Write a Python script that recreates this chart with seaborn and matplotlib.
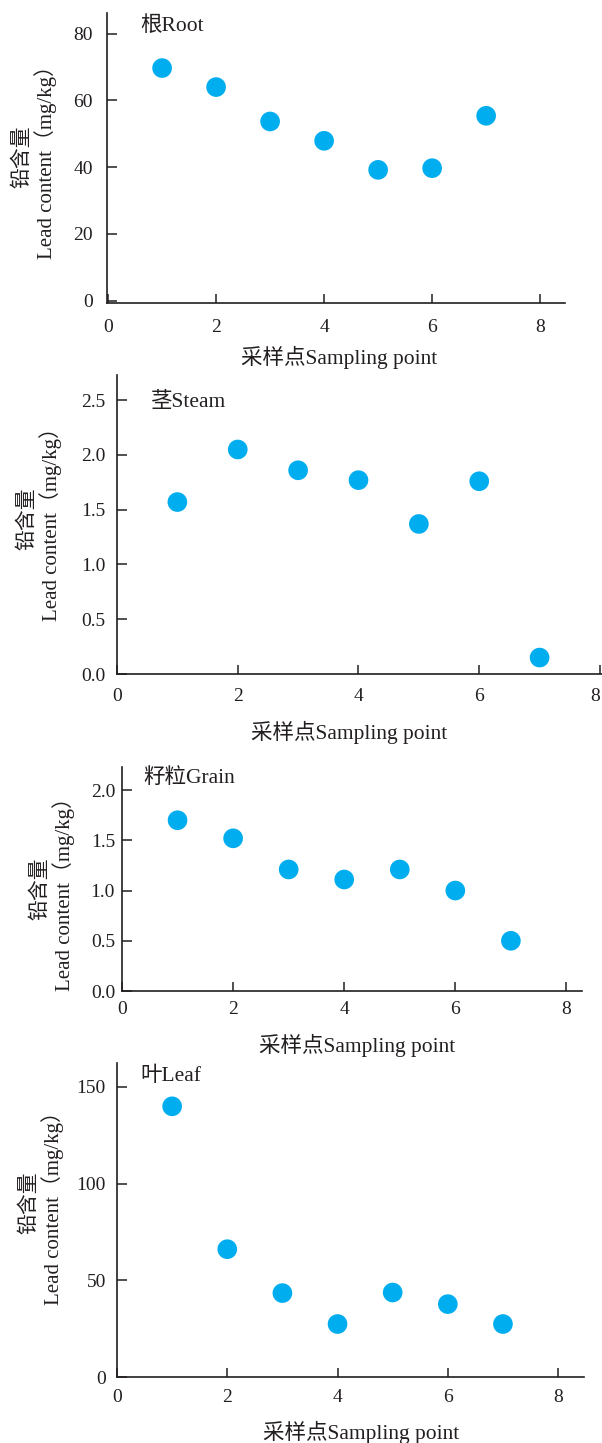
import numpy as np
import pandas as pd

import matplotlib
matplotlib.use("Agg")
import matplotlib.pyplot as plt
import seaborn as sns


# data
sampling_points = [1, 2, 3, 4, 5, 6, 7]

root_lead = [69.7, 64.0, 53.7, 47.9, 39.2, 39.7, 55.4]
steam_lead = [1.57, 2.05, 1.86, 1.77, 1.37, 1.76, 0.15]
grain_lead = [1.70, 1.52, 1.21, 1.11, 1.21, 1.00, 0.50]
leaf_lead = [140.0, 66.1, 43.4, 27.4, 43.7, 37.7, 27.4]

panel_names = ["根Root", "茎Steam", "籽粒Grain", "叶Leaf"]

x_ticks = [0, 2, 4, 6, 8]
root_ticks = [0, 20, 40, 60, 80]
steam_ticks = [0.0, 0.5, 1.0, 1.5, 2.0, 2.5]
grain_ticks = [0.0, 0.5, 1.0, 1.5, 2.0]
leaf_ticks = [0, 50, 100, 150]

root_labels = ["0", "20", "40", "60", "80"]
steam_labels = ["0.0", "0.5", "1.0", "1.5", "2.0", "2.5"]
grain_labels = ["0.0", "0.5", "1.0", "1.5", "2.0"]
leaf_labels = ["0", "50", "100", "150"]

x_label = "采样点Sampling point"
y_label = "铅含量\nLead content（mg/kg）"


sns.set_style("ticks")
plt.rcParams["font.family"] = ["Liberation Serif", "Noto Sans CJK SC"]

W, H = 602, 1443
ink = "#231F20"
dot = "#00AEEF"

fig = plt.figure(figsize=(W / 100, H / 100), dpi=100)


# layout in pixels: spine box, limits, pads, text spots
panels = [
    dict(values=root_lead, ticks=root_ticks, labels=root_labels, name=panel_names[0],
         box=(107, 565, 13, 303), xlim=(-0.02, 8.46), ylim=(-0.7, 86.2),
         ypad=10, xpad=11.5, ylab=(35, 157), xlab=(339, 357), title=(140, 26)),
    dict(values=steam_lead, ticks=steam_ticks, labels=steam_labels, name=panel_names[1],
         box=(117, 603, 375, 674), xlim=(0, 8.05), ylim=(0.048, 2.73),
         ypad=8.4, xpad=10, ylab=(40, 519), xlab=(349, 732), title=(151, 402)),
    dict(values=grain_lead, ticks=grain_ticks, labels=grain_labels, name=panel_names[2],
         box=(122, 582, 767, 991), xlim=(0, 8.28), ylim=(0, 2.23),
         ypad=5, xpad=7, ylab=(53, 889), xlab=(357, 1045), title=(143, 778)),
    dict(values=leaf_lead, ticks=leaf_ticks, labels=leaf_labels, name=panel_names[3],
         box=(117, 584, 1063, 1377), xlim=(0, 8.47), ylim=(0, 162.4),
         ypad=8, xpad=8.6, ylab=(42, 1203), xlab=(361, 1432), title=(140, 1076)),
]


for p in panels:

    x0, x1, y_top, y_axis = p["box"]

    ax = fig.add_axes([
        x0 / W,
        1 - y_axis / H,
        (x1 - x0) / W,
        (y_axis - y_top) / H
    ])

    sns.scatterplot(
        x=sampling_points,
        y=p["values"],
        ax=ax,
        s=200,
        color=dot,
        edgecolor="none",
        linewidth=0,
        clip_on=False,
        zorder=3
    )

    ax.set_xlim(*p["xlim"])
    ax.set_ylim(*p["ylim"])

    ax.set_xticks(x_ticks)
    ax.set_xticklabels([str(t) for t in x_ticks])
    ax.set_yticks(p["ticks"])
    ax.set_yticklabels(p["labels"])

    sns.despine(ax=ax)

    for side in ["left", "bottom"]:
        ax.spines[side].set_linewidth(1.2)
        ax.spines[side].set_color(ink)

    ax.tick_params(axis="y", direction="in", length=7.5, width=1.1,
                   color=ink, labelcolor=ink, labelsize=14, pad=p["ypad"])
    ax.tick_params(axis="x", direction="in", length=6.5, width=1.1,
                   color=ink, labelcolor=ink, labelsize=14, pad=p["xpad"])

    # the last x label of the Steam panel sits on the figure edge
    if x1 > W - 10:
        ax.get_xticklabels()[-1].set_horizontalalignment("right")

    ax.set_xlabel("")
    ax.set_ylabel("")

    fig.text(
        p["ylab"][0] / W,
        1 - p["ylab"][1] / H,
        y_label,
        rotation=90,
        ha="center",
        va="center",
        multialignment="center",
        fontsize=15,
        color=ink,
        linespacing=1.1
    )

    fig.text(
        p["xlab"][0] / W,
        1 - p["xlab"][1] / H,
        x_label,
        ha="center",
        va="center",
        fontsize=15.5,
        color=ink
    )

    fig.text(
        p["title"][0] / W,
        1 - p["title"][1] / H,
        p["name"],
        ha="left",
        va="center",
        fontsize=15.5,
        color=ink
    )


fig.savefig("out.png", dpi=100)
